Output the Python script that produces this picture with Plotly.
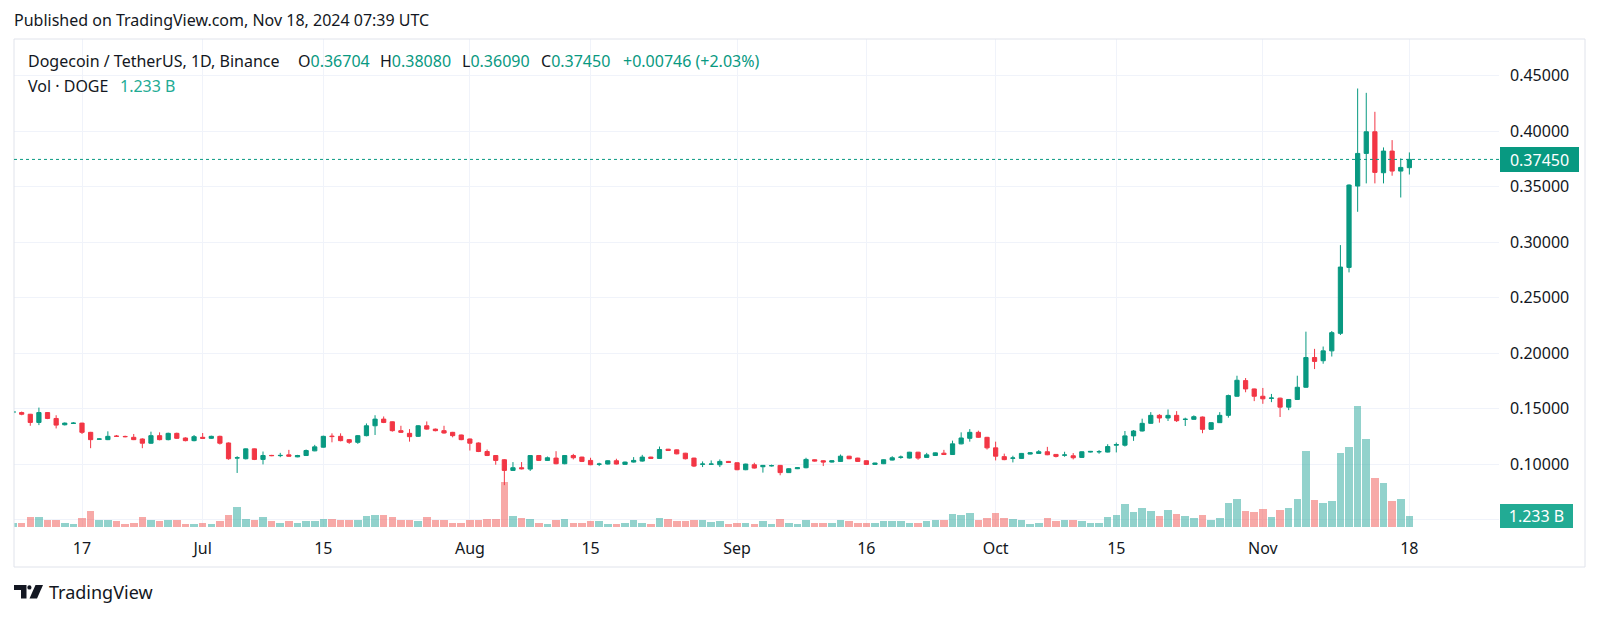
import plotly.graph_objects as go
from datetime import datetime, timedelta

# ---------------- data ----------------
start_date = datetime(2024, 6, 9)

opens = [
    .1464, .1464, .1449, .1375, .1464, .1411, .1354, .1366, .1369, .1286,
    .1224, .1220, .1252, .1249, .1241, .1226, .1188, .1256, .1220, .1277,
    .1235, .1211, .1241, .1232, .1250, .1190, .1054, .1048, .1137, .1042,
    .1078, .1076, .1083, .1065, .1077, .1119, .1152, .1252, .1250, .1220,
    .1196, .1256, .1345, .1405, .1381, .1301, .1277, .1250, .1345, .1315,
    .1301, .1286, .1262, .1226, .1190, .1113, .1077, .1039, .0943, .0967,
    .0955, .1077, .1033, .1054, .1003, .1077, .1063, .1033, .0998, .1000,
    .1030, .0997, .1018, .1027, .1063, .1051, .1134, .1128, .1098, .1054,
    .0998, .0998, .0994, .1024, .1012, .0949, .0994, .0976, .0984, .0988,
    .0923, .0958, .0967, .1039, .1030, .1018, .1024, .1071, .1054, .1030,
    .0997, .1003, .1036, .1060, .1054, .1107, .1060, .1077, .1098, .1086,
    .1182, .1232, .1286, .1241, .1146, .1067, .1052, .1051, .1090, .1096,
    .1111, .1087, .1080, .1075, .1060, .1108, .1110, .1108, .1170, .1170,
    .1254, .1298, .1367, .1439, .1415, .1439, .1402, .1403, .1424, .1313,
    .1373, .1439, .1611, .1752, .1677, .1611, .1592, .1594, .1513, .1582,
    .1692, .1960, .1931, .2020, .2178, .2772, .3505, .3799, .3994, .3625,
    .3820, .3640, .36704,
]
highs = [
    .1480, .1473, .1452, .1509, .1468, .1440, .1375, .1378, .1372, .1290,
    .1232, .1295, .1262, .1256, .1271, .1232, .1292, .1286, .1283, .1283,
    .1241, .1262, .1280, .1256, .1256, .1195, .1071, .1140, .1140, .1113,
    .1083, .1101, .1128, .1083, .1131, .1173, .1256, .1277, .1277, .1226,
    .1262, .1366, .1440, .1429, .1384, .1345, .1315, .1351, .1384, .1320,
    .1345, .1290, .1265, .1230, .1195, .1131, .1080, .1045, .1018, .1018,
    .1080, .1082, .1068, .1116, .1080, .1092, .1066, .1057, .1012, .1034,
    .1048, .1022, .1063, .1083, .1066, .1158, .1137, .1131, .1101, .1057,
    .1024, .1033, .1042, .1028, .1015, .1003, .1012, .0992, .0995, .0992,
    .0962, .0971, .1057, .1042, .1034, .1034, .1086, .1074, .1057, .1033,
    .1012, .1042, .1071, .1077, .1110, .1110, .1101, .1104, .1128, .1211,
    .1286, .1315, .1301, .1245, .1202, .1094, .1075, .1100, .1106, .1126,
    .1155, .1090, .1111, .1099, .1114, .1118, .1126, .1179, .1194, .1298,
    .1307, .1409, .1468, .1450, .1492, .1477, .1418, .1439, .1428, .1376,
    .1468, .1626, .1796, .1775, .1680, .1686, .1632, .1598, .1585, .1796,
    .2193, .2038, .2059, .2199, .2973, .3520, .4384, .4345, .4174, .3853,
    .3919, .3754, .38080,
]
lows = [
    .1458, .1440, .1345, .1351, .1405, .1321, .1348, .1362, .1271, .1143,
    .1220, .1216, .1244, .1241, .1216, .1143, .1182, .1214, .1214, .1226,
    .1205, .1205, .1226, .1226, .1176, .1039, .0920, .1042, .1036, .0997,
    .1071, .1062, .1068, .1062, .1074, .1116, .1149, .1196, .1205, .1182,
    .1182, .1250, .1262, .1369, .1292, .1280, .1202, .1244, .1310, .1295,
    .1275, .1241, .1215, .1122, .1108, .1072, .0994, .0810, .0938, .0952,
    .0938, .1028, .1028, .0998, .0998, .1042, .1018, .0990, .0982, .0996,
    .0996, .0993, .1014, .1022, .1047, .1047, .1118, .1088, .1042, .0973,
    .0973, .0995, .0973, .1010, .0945, .0945, .0960, .0923, .0978, .0899,
    .0920, .0955, .0962, .1023, .0982, .1014, .1020, .1044, .1020, .0993,
    .0994, .1000, .1033, .1048, .1050, .1039, .1057, .1074, .1083, .1083,
    .1178, .1202, .1236, .1131, .1033, .1035, .1015, .1048, .1087, .1093,
    .1080, .1060, .1066, .1042, .1057, .1105, .1093, .1105, .1105, .1158,
    .1209, .1294, .1363, .1373, .1388, .1379, .1343, .1400, .1278, .1309,
    .1370, .1418, .1608, .1647, .1567, .1543, .1558, .1424, .1486, .1578,
    .1688, .1856, .1904, .1969, .2163, .2727, .3273, .3529, .3529, .3529,
    .3598, .3402, .36090,
]
closes = [
    .1473, .1449, .1375, .1464, .1411, .1351, .1369, .1369, .1286, .1220,
    .1226, .1250, .1250, .1247, .1220, .1188, .1256, .1220, .1277, .1232,
    .1211, .1247, .1232, .1250, .1188, .1048, .1057, .1137, .1042, .1077,
    .1076, .1078, .1071, .1077, .1122, .1155, .1250, .1248, .1211, .1196,
    .1256, .1345, .1405, .1375, .1301, .1286, .1247, .1345, .1315, .1301,
    .1280, .1256, .1220, .1188, .1113, .1077, .1033, .0943, .0967, .0958,
    .1077, .1033, .1057, .1003, .1077, .1057, .1024, .0994, .1000, .1030,
    .1000, .1018, .1033, .1063, .1051, .1131, .1122, .1092, .1048, .0982,
    .1000, .1000, .1024, .1015, .0949, .1000, .0964, .0988, .0986, .0923,
    .0958, .0967, .1042, .1027, .1018, .1030, .1071, .1048, .1024, .0997,
    .1009, .1039, .1057, .1063, .1107, .1054, .1083, .1101, .1086, .1182,
    .1235, .1286, .1241, .1146, .1071, .1040, .1055, .1096, .1102, .1111,
    .1084, .1069, .1082, .1057, .1111, .1114, .1112, .1158, .1176, .1254,
    .1298, .1367, .1439, .1415, .1439, .1391, .1404, .1427, .1313, .1373,
    .1439, .1617, .1755, .1677, .1611, .1588, .1595, .1513, .1582, .1692,
    .1960, .1925, .2020, .2184, .2775, .3514, .3799, .3994, .3628, .3820,
    .3640, .3673, .37450,
]
# volume, billions of DOGE
volumes = [
    .50, .50, 1.15, 1.15, .76, .84, .50, .38, 1.07, 1.80,
    .76, .84, .65, .38, .50, 1.15, .84, .65, .76, .76,
    .31, .38, .50, .38, .65, 1.38, 2.25, .96, .76, 1.15,
    .65, .50, .65, .50, .65, .65, .96, .96, .76, .76,
    .76, 1.26, 1.38, 1.38, 1.15, .84, .84, .65, 1.15, .76,
    .76, .50, .50, .84, .84, .96, .96, 5.04, 1.22, 1.07,
    .96, .50, .31, .76, .88, .50, .50, .65, .65, .31,
    .38, .50, .76, .50, .38, 1.07, .96, .65, .65, .76,
    .76, .57, .65, .31, .50, .50, .38, .65, .38, .96,
    .50, .38, .84, .50, .50, .50, .84, .65, .50, .50,
    .50, .65, .65, .65, .50, .50, .65, .76, .76, 1.45,
    1.34, 1.53, .84, 1.07, 1.60, 1.03, .96, .76, .37, .49,
    1.02, .64, .76, .76, .64, .49, .49, 1.13, 1.36, 2.57,
    1.70, 2.11, 1.81, 1.24, 1.89, 1.44, 1.28, 1.05, 1.36, .76,
    1.05, 2.71, 3.20, 1.81, 1.70, 2.00, 1.13, 1.89, 2.11, 3.20,
    8.59, 3.08, 2.71, 2.90, 8.36, 9.04, 13.67, 9.98, 5.57, 4.97,
    2.92, 3.12, 1.233,
]

tick_dates = ["2024-06-17", "2024-07-01", "2024-07-15", "2024-08-01", "2024-08-15",
              "2024-09-01", "2024-09-16", "2024-10-01", "2024-10-15", "2024-11-01",
              "2024-11-18"]
tick_labels = ["17", "Jul", "15", "Aug", "15", "Sep", "16", "Oct", "15", "Nov", "18"]

price_ticks = [0.05, 0.10, 0.15, 0.20, 0.25, 0.30, 0.35, 0.40, 0.45]
price_labels = ["", "0.10000", "0.15000", "0.20000", "0.25000", "0.30000",
                "0.35000", "0.40000", "0.45000"]

title_text = "Published on TradingView.com, Nov 18, 2024 07:39 UTC"
symbol_text = "Dogecoin / TetherUS, 1D, Binance"
vol_label = "Vol · DOGE"
vol_value_text = "1.233 B"

# ---------------- styling ----------------
PAGE_W, PAGE_H = 1600, 618
OFF = 8                                   # default page body margin
W, H = PAGE_W - OFF, PAGE_H - OFF
PL, PR, PT, PB = 14, 1499, 39, 527        # plot area in page pixels
UP, DOWN = "#089981", "#F23645"
VUP, VDOWN = "rgba(38,166,154,0.5)", "rgba(239,83,80,0.5)"
TXT = "#131722"
GRID = "#F0F3FA"
FONT = "Noto Sans"


def px(x):
    return (x - PL) / (PR - PL)


def py(y):
    return (PB - y) / (PB - PT)


dates = [start_date + timedelta(days=i) for i in range(len(opens))]
vol_colors = [VUP if c >= o else VDOWN for o, c in zip(opens, closes)]

fig = go.Figure()
fig.add_trace(go.Bar(
    x=dates, y=volumes, marker=dict(color=vol_colors, line=dict(width=0)),
    width=0.88 * 86400000, yaxis="y", hoverinfo="skip", showlegend=False,
))
fig.add_trace(go.Candlestick(
    x=dates, open=opens, high=highs, low=lows, close=closes,
    increasing=dict(line=dict(color=UP, width=1), fillcolor=UP),
    decreasing=dict(line=dict(color=DOWN, width=1), fillcolor=DOWN),
    whiskerwidth=0, yaxis="y2", showlegend=False,
))

last_close = closes[-1]
vol_top = (PB - PT) * 0.113

fig.update_layout(
    width=W, height=H,
    margin=dict(l=PL - OFF, r=PAGE_W - PR, t=PT - OFF, b=PAGE_H - PB, pad=0),
    paper_bgcolor="white", plot_bgcolor="white",
    font=dict(family=FONT, size=16, color=TXT),
    showlegend=False,
    bargap=0,
    xaxis=dict(
        type="date",
        range=[start_date + timedelta(days=0.11), start_date + timedelta(days=172.4)],
        tickvals=tick_dates, ticktext=tick_labels,
        showgrid=True, gridcolor=GRID, gridwidth=1,
        ticks="", showline=False, zeroline=False,
        rangeslider=dict(visible=False),
        tickfont=dict(size=16, color=TXT),
        ticklabelstandoff=10,
    ),
    yaxis=dict(range=[0, vol_top], visible=False, fixedrange=True),
    yaxis2=dict(
        overlaying="y", side="right",
        range=[0.0433, 0.4830],
        tickvals=price_ticks, ticktext=price_labels,
        showgrid=True, gridcolor=GRID, gridwidth=1,
        ticks="", showline=False, zeroline=False,
        tickfont=dict(size=16, color=TXT),
        ticklabelstandoff=10,
    ),
)

shapes = [
    # chart frame
    dict(type="rect", xref="paper", yref="paper", x0=px(14), x1=px(1585), y0=py(39), y1=py(567),
         line=dict(color="#E0E3EB", width=1), fillcolor="rgba(0,0,0,0)", layer="above"),
    # last price dotted line
    dict(type="line", xref="paper", yref="y2", x0=0, x1=1, y0=last_close, y1=last_close,
         line=dict(color=UP, width=1, dash="dot"), layer="above"),
    # TradingView logo
    dict(type="path", xref="paper", yref="paper",
         path=f"M {px(14)},{py(585)} L {px(26.5)},{py(585)} L {px(26.5)},{py(598.5)} L {px(21)},{py(598.5)} "
              f"L {px(21)},{py(590)} L {px(14)},{py(590)} Z",
         fillcolor=TXT, line=dict(width=0)),
    dict(type="circle", xref="paper", yref="paper", x0=px(27.3), x1=px(31.5), y0=py(589.6), y1=py(585.2),
         fillcolor=TXT, line=dict(width=0)),
    dict(type="path", xref="paper", yref="paper",
         path=f"M {px(35.5)},{py(585)} L {px(43)},{py(585)} L {px(37)},{py(598.5)} L {px(29.5)},{py(598.5)} Z",
         fillcolor=TXT, line=dict(width=0)),
]
fig.update_layout(shapes=shapes)

G = UP
ann = []


def text(x, y, s, size=16, color=TXT, **kw):
    ann.append(dict(xref="paper", yref="paper", x=px(x), y=py(y), text=s, showarrow=False,
                    xanchor="left", yanchor="middle", font=dict(size=size, color=color, family=FONT), **kw))


text(12, 20, title_text)
text(26, 61, symbol_text)
ohlc_parts = [("O", opens[-1]), ("H", highs[-1]), ("L", lows[-1]), ("C", closes[-1])]
xs = [296, 378, 460, 539]
for (k, v), xx in zip(ohlc_parts, xs):
    text(xx, 61, f"{k}<span style='color:{G}'>{v:.5f}</span>")
chg = closes[-1] - opens[-1]
text(621, 61, f"+{chg:.5f} (+{chg / closes[-2] * 100:.2f}%)", color=G)
text(26, 86, vol_label)
text(118, 86, vol_value_text, color="#22AB94")
text(47, 592, "TradingView", size=18)

# axis value labels
ann.append(dict(xref="paper", yref="y2", x=px(1500), y=last_close, xanchor="left", yanchor="middle",
                text=f"{last_close:.5f}", showarrow=False, bgcolor=UP, width=79, height=25,
                borderpad=0, borderwidth=0, align="center",
                font=dict(size=16, color="white", family=FONT)))
ann.append(dict(xref="paper", yref="y", x=px(1500), y=volumes[-1], xanchor="left", yanchor="middle",
                text=vol_value_text, showarrow=False, bgcolor="#22AB94", width=73, height=24,
                borderpad=0, borderwidth=0, align="center",
                font=dict(size=16, color="white", family=FONT)))
fig.update_layout(annotations=ann)

fig.write_html("out.html", config={"displayModeBar": False})
